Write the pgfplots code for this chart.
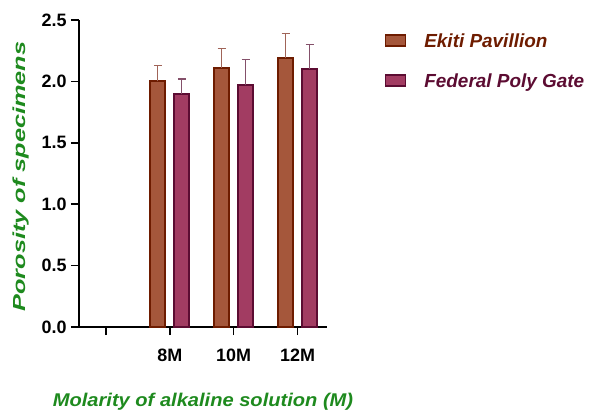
\documentclass[border=0pt]{standalone}
\usepackage{pgfplots}
\pgfplotsset{compat=1.18}
\usepackage{fontspec}
\setmainfont{Liberation Sans}
\definecolor{ekfill}{HTML}{A5573B}
\definecolor{ekdraw}{HTML}{6E1C00}
\definecolor{ekerr}{HTML}{A06458}
\definecolor{fpfill}{HTML}{A23C62}
\definecolor{fpdraw}{HTML}{5C0C32}
\definecolor{fperr}{HTML}{84506A}
\definecolor{lblgreen}{HTML}{1E8A1E}
\begin{document}
\begin{tikzpicture}
\useasboundingbox (-79bp,-90bp) rectangle (518bp,327bp);
\begin{axis}[
  scale only axis,
  width=248bp, height=307bp,
  xmin=-0.42, xmax=3.46,
  ymin=0, ymax=2.5,
  axis lines=left,
  axis line style={line width=1.6bp, -},
  tick style={line width=1.6bp, black},
  tick align=outside,
  major tick length=8bp,
  xtick={0,1,2,3},
  xticklabels={{},8M,10M,12M},
  ytick={0,0.5,1,1.5,2,2.5},
  yticklabel style={/pgf/number format/fixed, /pgf/number format/fixed zerofill, /pgf/number format/precision=1, xshift=-1bp},
  /pgf/number format/assume math mode=true,
  ticklabel style={font=\bfseries\fontsize{18}{20}\selectfont},
  xticklabel style={yshift=-10bp},
  xlabel={\scalebox{1.09}[1]{\textcolor{lblgreen}{Molarity of alkaline solution (M)}}},
  ylabel={\scalebox{1.45}[1]{\textcolor{lblgreen}{Porosity of specimens}}},
  xlabel style={at={(axis description cs:0.5,-0.245)}, anchor=center, font=\bfseries\itshape\fontsize{18.5}{20}\selectfont},
  ylabel style={at={(axis description cs:-0.235,0.49)}, rotate=0, anchor=center, font=\bfseries\itshape\fontsize{17.5}{20}\selectfont},
  ybar,
  bar width=15bp,
  clip=false,
  legend style={at={(axis description cs:1.22,0.97)}, anchor=north west, draw=none, fill=none,
    font=\bfseries\itshape\fontsize{19}{21}\selectfont, row sep=21bp,
    /tikz/every odd column/.append style={column sep=16bp}},
  legend cell align=left,
  legend image code/.code={\draw[#1, line width=1.6bp] (0bp,-5bp) rectangle (20bp,6bp);},
]
\addplot[fill=ekfill, draw=ekdraw, line width=1.8bp, bar shift=-12bp,
  error bars/.cd, y dir=plus, y explicit,
  error bar style={ekerr, line width=1.3bp}, error mark options={ekerr, line width=1.3bp, mark size=4bp, rotate=90}]
  coordinates {(1,2.00) +- (0,0.13) (2,2.11) +- (0,0.16) (3,2.19) +- (0,0.20)};
\addlegendentry{\textcolor{ekdraw}{Ekiti Pavillion}}
\addplot[fill=fpfill, draw=fpdraw, line width=1.8bp, bar shift=12bp,
  error bars/.cd, y dir=plus, y explicit,
  error bar style={fperr, line width=1.3bp}, error mark options={fperr, line width=1.3bp, mark size=4bp, rotate=90}]
  coordinates {(1,1.90) +- (0,0.12) (2,1.97) +- (0,0.21) (3,2.10) +- (0,0.20)};
\addlegendentry{\textcolor{fpdraw}{Federal Poly Gate}}
\end{axis}
\end{tikzpicture}
\end{document}
